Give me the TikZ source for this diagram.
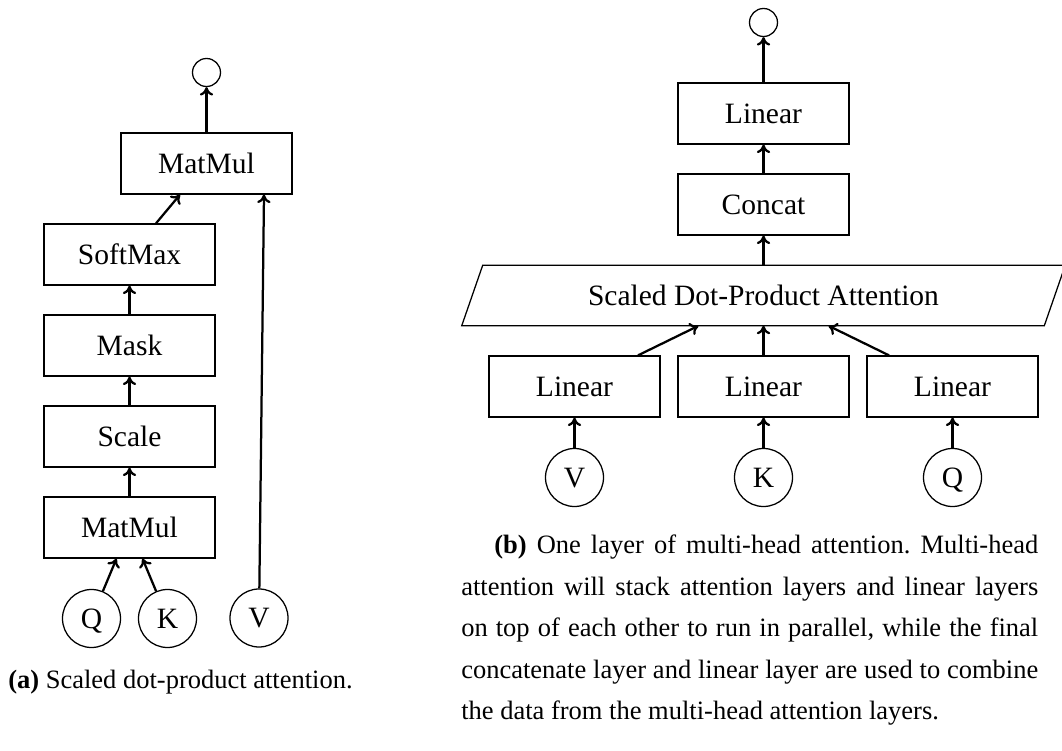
\documentclass[tikz,border=0pt]{standalone}
\usepackage{fontspec}
\setmainfont{Liberation Serif}
\usepackage{tikz}
\usetikzlibrary{arrows.meta}

\begin{document}
\frenchspacing
\begin{tikzpicture}[
  node distance=2.275cm,
  font=\fontsize{21}{25}\selectfont,
  layer/.style={draw, line width=0.9pt, minimum width=4.275cm, minimum height=1.525cm, inner sep=0pt},
  token/.style={draw, circle, line width=0.9pt, minimum size=1.45cm, inner sep=0pt,
    text height=14pt, text depth=0pt},
  outnode/.style={draw, circle, line width=0.9pt, minimum size=0.7cm, inner sep=0pt},
  attn/.style={minimum width=14.55cm, minimum height=1.5cm, inner sep=0pt},
  slant/.style={draw, line width=0.9pt, line join=miter},
  caption/.style={inner sep=0pt, font=\fontsize{18.85}{29.5}\selectfont},
  arrow/.style={-{To[length=6pt, width=9.5pt]}, line width=1.6pt}
]
\useasboundingbox (0,0) rectangle (26.55,-18.775);

% (a) scaled dot-product attention
\node[layer] (mmtop) at (5.1625,-4.0875) {MatMul};
\node[outnode] (outa) [above of=mmtop] {};
\node[layer] (softmax) at (3.2375,-6.3625) {SoftMax};
\node[layer] (mask) [below of=softmax] {Mask};
\node[layer] (scale) [below of=mask] {Scale};
\node[layer] (mmlow) [below of=scale] {MatMul};
\node[token] (qa) [below of=mmlow, xshift=-0.95cm] {Q};
\node[token] (ka) [below of=mmlow, xshift=0.95cm] {K};
\node[token] (va) at (6.475,-15.45) {V};

\draw[arrow] (qa) -- ([xshift=-0.325cm]mmlow.south);
\draw[arrow] (ka) -- ([xshift=0.325cm]mmlow.south);
\draw[arrow] (mmlow) -- (scale);
\draw[arrow] (scale) -- (mask);
\draw[arrow] (mask) -- (softmax);
\draw[arrow] ([xshift=0.6625cm]softmax.north) -- ([xshift=-0.6625cm]mmtop.south);
\draw[arrow] (va) -- ([xshift=1.4375cm]mmtop.south);
\draw[arrow] (mmtop) -- (outa);

\node[caption, anchor=base west] (capa) at (0.2,-17.2) {\textbf{(a)} Scaled dot-product attention.};

% (b) multi-head attention
\node[layer] (lintop) at (19.0875,-2.8375) {Linear};
\node[outnode] (outb) [above of=lintop] {};
\node[layer] (concat) [below of=lintop] {Concat};
\node[attn] (sdpa) [below of=concat] {Scaled Dot-Product Attention};
\draw[slant] ([xshift=-0.2625cm]sdpa.south west) -- ([xshift=-0.2625cm]sdpa.south east)
  -- ([xshift=0.2625cm]sdpa.north east) -- ([xshift=0.2625cm]sdpa.north west) -- cycle;
\node[layer] (linb) [below of=sdpa] {Linear};
\node[layer] (lina) [left of=linb, node distance=4.725cm] {Linear};
\node[layer] (linc) [right of=linb, node distance=4.725cm] {Linear};
\node[token] (vb) [below of=lina] {V};
\node[token] (kb) [below of=linb] {K};
\node[token] (qb) [below of=linc] {Q};

\draw[arrow] (vb) -- (lina);
\draw[arrow] (kb) -- (linb);
\draw[arrow] (qb) -- (linc);
\draw[arrow] ([xshift=1.5875cm]lina.north) -- ([xshift=-1.625cm]sdpa.south);
\draw[arrow] (linb) -- (sdpa);
\draw[arrow] ([xshift=-1.5875cm]linc.north) -- ([xshift=1.625cm]sdpa.south);
\draw[arrow] (sdpa) -- (concat);
\draw[arrow] (concat) -- (lintop);
\draw[arrow] (lintop) -- (outb);

\node[caption, anchor=base west, text width=14.425cm, align=justify] (capb) at (11.525,-13.85)
  {\hspace*{0.825cm}\textbf{(b)} One layer of multi-head attention. Multi-head\linebreak
   attention will stack attention layers and linear layers\linebreak
   on top of each other to run in parallel, while the final\linebreak
   concatenate layer and linear layer are used to combine\linebreak
   the data from the multi-head attention layers.};
\end{tikzpicture}
\end{document}
